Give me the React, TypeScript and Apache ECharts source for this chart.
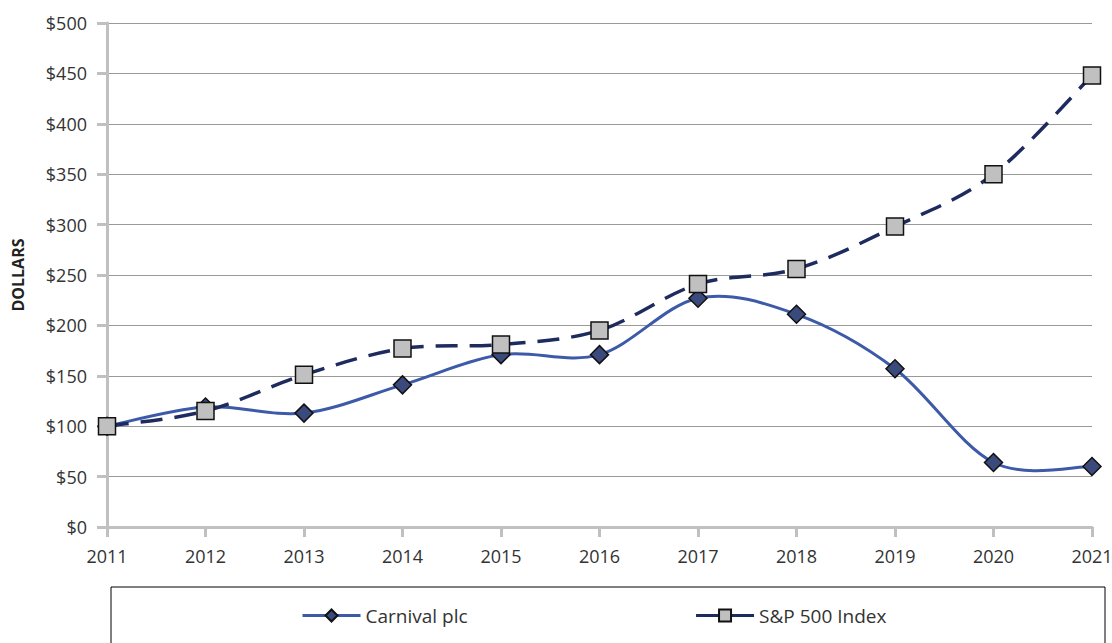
import React, { useEffect, useRef } from "react";
import * as echarts from "echarts";

const years = ["2011", "2012", "2013", "2014", "2015", "2016", "2017", "2018", "2019", "2020", "2021"];
const carnival = [100, 119, 113, 141, 171, 171, 227, 211, 157, 64, 60];
const sp500 = [100, 115, 151, 177, 181, 195, 241, 256, 298, 350, 448];
const seriesNames = ["Carnival plc", "S&P 500 Index"];
const yAxisName = "DOLLARS";

const carnivalColor = "#3d5aa8";
const spColor = "#1e2b5e";

function smoothPath(values: number[]) {
  return (params: any, api: any) => {
    if (params.dataIndex !== 0) return null;
    const pts = values.map((v, i) => api.coord([i, v]));
    let d = `M${pts[0][0]},${pts[0][1]}`;
    for (let i = 0; i < pts.length - 1; i++) {
      const p0 = pts[Math.max(0, i - 1)];
      const p1 = pts[i];
      const p2 = pts[i + 1];
      const p3 = pts[Math.min(pts.length - 1, i + 2)];
      const c1x = p1[0] + (p2[0] - p0[0]) / 6;
      const c1y = p1[1] + (p2[1] - p0[1]) / 6;
      const c2x = p2[0] - (p3[0] - p1[0]) / 6;
      const c2y = p2[1] - (p3[1] - p1[1]) / 6;
      d += ` C${c1x},${c1y} ${c2x},${c2y} ${p2[0]},${p2[1]}`;
    }
    return { type: "path", shape: { pathData: d }, style: {} };
  };
}

export default function App() {
  const ref = useRef<HTMLDivElement>(null);
  useEffect(() => {
    document.body.style.margin = "0";
    const chart = echarts.init(ref.current!, null, { renderer: "svg" });
    const font = "'Open Sans', 'Noto Sans', sans-serif";
    const carnivalRender = smoothPath(carnival);
    const spRender = smoothPath(sp500);
    chart.setOption({
      animation: false,
      textStyle: { fontFamily: font },
      grid: { left: 107, right: 20, top: 23, bottom: 116, outerBoundsMode: "none", containLabel: false },
      graphic: [
        {
          type: "rect",
          shape: { x: 111, y: 587, width: 994, height: 70 },
          style: { fill: "#fff", stroke: "#000", lineWidth: 1 },
          z: -1,
        },
      ],
      legend: {
        left: 296,
        top: 601,
        itemWidth: 58,
        itemHeight: 15,
        itemGap: 227,
        textStyle: { fontSize: 19, color: "#333", fontFamily: font },
        data: [
          { name: seriesNames[0], lineStyle: { opacity: 1, width: 3, color: carnivalColor } },
          { name: seriesNames[1], lineStyle: { opacity: 1, width: 3, color: spColor, type: "solid" } },
        ],
      },
      xAxis: {
        type: "category",
        data: years,
        boundaryGap: false,
        axisLine: { lineStyle: { color: "#c0c0c0", width: 3 } },
        axisTick: { length: 10, lineStyle: { color: "#c0c0c0", width: 3 } },
        axisLabel: { fontSize: 18, color: "#333", margin: 20 },
        splitLine: { show: false },
      },
      yAxis: {
        type: "value",
        min: 0,
        max: 500,
        interval: 50,
        name: yAxisName,
        nameLocation: "middle",
        nameGap: 81,
        nameTextStyle: { fontSize: 16, fontWeight: "bold", color: "#222" },
        axisLine: { show: true, lineStyle: { color: "#c0c0c0", width: 3 } },
        axisTick: { show: true, length: 10, lineStyle: { color: "#c0c0c0", width: 3 } },
        axisLabel: { fontSize: 18, color: "#333", margin: 20, formatter: "${value}" },
        splitLine: { lineStyle: { color: "#999", width: 1 } },
      },
      series: [
        {
          name: "carnival-curve",
          type: "custom",
          data: [[0, carnival[0]]],
          renderItem: (p: any, api: any) => {
            const el: any = carnivalRender(p, api);
            if (el) el.style = { fill: "none", stroke: carnivalColor, lineWidth: 3 };
            return el;
          },
          clip: false,
          silent: true,
          z: 1,
        },
        {
          name: seriesNames[0],
          type: "line",
          data: carnival,
          symbol: "diamond",
          symbolSize: 18,
          lineStyle: { opacity: 0, color: carnivalColor, width: 3 },
          itemStyle: { color: "#3b4a7c", borderColor: "#111", borderWidth: 1.5 },
          z: 2,
        },
        {
          name: "sp-curve",
          type: "custom",
          data: [[0, sp500[0]]],
          renderItem: (p: any, api: any) => {
            const el: any = spRender(p, api);
            if (el) el.style = { fill: "none", stroke: spColor, lineWidth: 3.5, lineDash: [22, 12] };
            return el;
          },
          clip: false,
          silent: true,
          z: 3,
        },
        {
          name: seriesNames[1],
          type: "line",
          data: sp500,
          symbol: "rect",
          symbolSize: 17,
          lineStyle: { opacity: 0, color: spColor, width: 3 },
          itemStyle: { color: "#c0c0c0", borderColor: "#111", borderWidth: 1.5 },
          z: 4,
        },
      ],
    });
    return () => chart.dispose();
  }, []);
  return <div ref={ref} style={{ position: "absolute", left: 0, top: 0, width: 1112, height: 643 }} />;
}
